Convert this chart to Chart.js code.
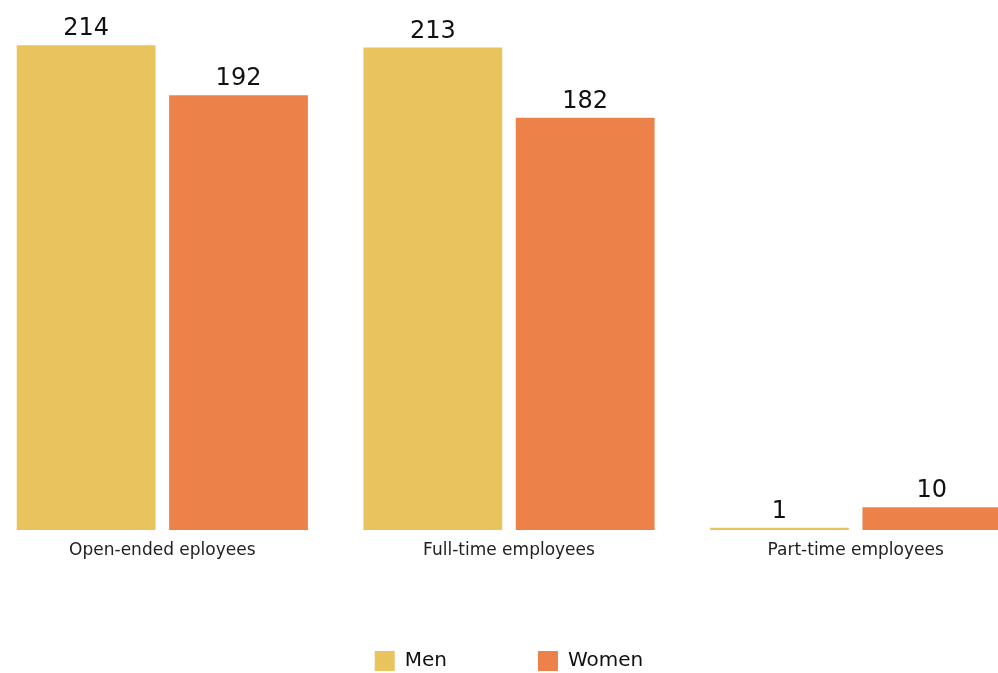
<!DOCTYPE html>
<html>
<head>
<meta charset="utf-8">
<script src="https://cdn.jsdelivr.net/npm/chart.js@4"></script>
<style>
  html, body { margin: 0; padding: 0; background: #fff; overflow: hidden; }
  #wrap { position: absolute; left: -11px; top: 0; width: 1040px; height: 673px; }
</style>
</head>
<body>
<div id="wrap"><canvas id="staffChart"></canvas></div>
<script>
const categories = ["Open-ended eployees", "Full-time employees", "Part-time employees"];
const menValues = [214, 213, 1];
const womenValues = [192, 182, 10];

const FONT = "'DejaVu Sans', sans-serif";
const LEGEND_GAP = 91;

// draws the number above each bar
const barValues = {
    id: "barValues",
    afterDatasetsDraw(chart) {
        const ctx = chart.ctx;
        ctx.save();
        ctx.font = "24px " + FONT;
        ctx.fillStyle = "#111";
        ctx.textAlign = "center";
        ctx.textBaseline = "alphabetic";
        chart.data.datasets.forEach((ds, i) => {
            chart.getDatasetMeta(i).data.forEach((bar, j) => {
                ctx.fillText(ds.data[j], bar.x, bar.y - 10);
            });
        });
        ctx.restore();
    }
};

// wide gap between legend items, but keep the legend box short
const legendHeight = {
    id: "legendHeight",
    beforeInit(chart) {
        const fit = chart.legend.fit;
        chart.legend.fit = function () {
            fit.bind(chart.legend)();
            this.height = 113;
        };
    }
};

new Chart(document.getElementById("staffChart"), {
    type: "bar",
    data: {
        labels: categories,
        datasets: [
            {
                label: "Men",
                data: menValues,
                backgroundColor: "#E9C35E",
                barPercentage: 0.911,
                categoryPercentage: 0.879
            },
            {
                label: "Women",
                data: womenValues,
                backgroundColor: "#EC8249",
                barPercentage: 0.911,
                categoryPercentage: 0.879
            }
        ]
    },
    options: {
        responsive: true,
        maintainAspectRatio: false,
        animation: false,
        layout: { padding: 0 },
        plugins: {
            legend: {
                position: "bottom",
                labels: {
                    boxWidth: 20,
                    boxHeight: 20,
                    padding: LEGEND_GAP,
                    color: "#111",
                    font: { family: FONT, size: 20 }
                }
            },
            tooltip: { enabled: false }
        },
        scales: {
            x: {
                grid: { display: false },
                border: { display: false },
                ticks: {
                    color: "#222",
                    padding: 2,
                    font: { family: FONT, size: 17 }
                },
                afterFit(scale) {
                    scale.height = 30;
                }
            },
            y: {
                display: false,
                min: 0,
                max: 234
            }
        }
    },
    plugins: [barValues, legendHeight]
});
</script>
</body>
</html>
